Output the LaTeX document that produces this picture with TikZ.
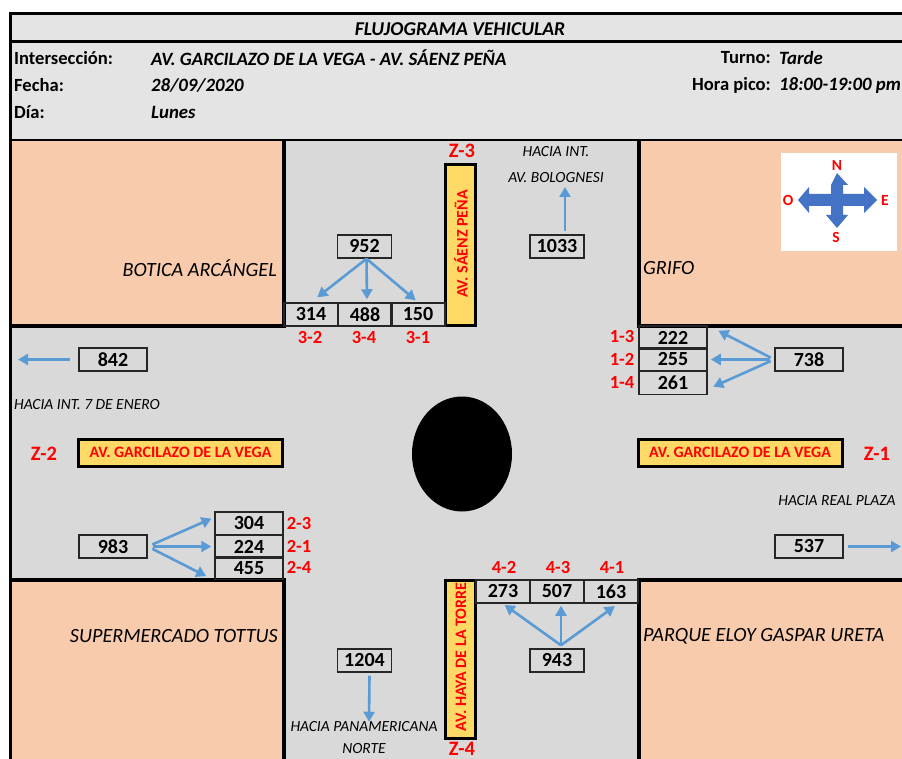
\documentclass[tikz,border=0pt]{standalone}
\usepackage{fontspec}
\usepackage{xcolor}
\setmainfont{Carlito}
\usetikzlibrary{positioning,arrows.meta,calc,shapes.geometric}

\definecolor{bandgray}{HTML}{E4E4E4}
\definecolor{roadgray}{HTML}{D9D9D9}
\definecolor{blockpeach}{HTML}{F8CBAD}
\definecolor{signyellow}{HTML}{FFD966}
\definecolor{flowblue}{HTML}{5B9BD5}
\definecolor{crossblue}{HTML}{4472C4}
\definecolor{txtred}{HTML}{FF0000}
\definecolor{boxline}{HTML}{262626}

\tikzset{
  block/.style={fill=blockpeach},
  blockedge/.style={draw=black, line width=3.5pt},
  sign/.style={rectangle, draw=black, line width=3pt, fill=signyellow, inner sep=0pt,
    text=txtred, font=\fontsize{15.9}{18}\selectfont\bfseries},
  signv/.style={rotate=90, text=txtred, inner sep=0pt, font=\fontsize{16}{18}\selectfont\bfseries},
  cnt/.style={rectangle, draw=boxline, line width=1.5pt, inner sep=0pt, minimum height=23pt,
    font=\fontsize{20}{22}\selectfont\bfseries},
  cntw/.style={cnt, minimum width=54pt},
  cntn/.style={cnt, minimum width=68pt},
  mov/.style={inner sep=0pt, text=txtred, font=\fontsize{18.5}{20}\selectfont\bfseries},
  zone/.style={inner sep=0pt, text=txtred, font=\fontsize{20.5}{22}\selectfont\bfseries},
  head/.style={inner sep=0pt, anchor=west, font=\fontsize{18.6}{20}\selectfont\bfseries},
  headr/.style={head, anchor=east},
  headv/.style={head, font=\fontsize{18.8}{20}\selectfont\bfseries\itshape},
  place/.style={inner sep=0pt, font=\fontsize{20.2}{22}\selectfont\itshape},
  dest/.style={inner sep=0pt, font=\fontsize{15.5}{17}\selectfont\itshape},
  card/.style={inner sep=0pt, text=txtred, font=\fontsize{15.5}{16}\selectfont\bfseries},
  flow/.style={draw=flowblue, line width=2.6pt, -{Triangle[length=10pt,width=11pt]}}
}

\begin{document}
\begin{tikzpicture}[x=1pt, y=-1pt]
  \useasboundingbox (0,0) rectangle (902,759);

  % Fondos
  \fill[roadgray] (10,140) rectangle (902,759);
  \fill[bandgray] (10,14) rectangle (902,140);

  % Manzanas
  \fill[block] (10,140) rectangle (284,326);
  \fill[block] (639,140) rectangle (902,326);
  \fill[block] (10,580) rectangle (284,759);
  \fill[block] (639,580) rectangle (902,759);
  \draw[blockedge] (284,140) -- (284,326) -- (10,326);
  \draw[blockedge] (639,140) -- (639,326) -- (902,326);
  \draw[blockedge] (10,580) -- (284,580) -- (284,759);
  \draw[blockedge] (902,580) -- (639,580) -- (639,759);
  \node[place, anchor=east] (botica) at (277,268) {BOTICA ARCÁNGEL};
  \node[place, anchor=west] (grifo) at (643,268) {GRIFO};
  \node[place, anchor=east] (tottus) at (278,636) {SUPERMERCADO TOTTUS};
  \node[place, anchor=west] (parque) at (643,636) {PARQUE ELOY GASPAR URETA};

  % Marco
  \draw[line width=3pt] (902,14) -- (10,14) -- (10,759);
  \draw[line width=3pt] (10,42) -- (902,42);
  \draw[line width=2.5pt] (10,140) -- (902,140);

  % Encabezado
  \node[inner sep=0pt, font=\fontsize{19.6}{22}\selectfont\bfseries\itshape] (title) at (460,29) {FLUJOGRAMA VEHICULAR};
  \node[head] (inter) at (14,58) {Intersección:};
  \node[head] (fecha) at (14,85) {Fecha:};
  \node[head] (dia) at (14,112) {Día:};
  \node[headv] (interv) at (151,58) {AV. GARCILAZO DE LA VEGA - AV. SÁENZ PEÑA};
  \node[headv] (fechav) at (151,85) {28/09/2020};
  \node[headv] (diav) at (151,112) {Lunes};
  \node[headr] (turno) at (771,58) {Turno:};
  \node[headr] (hora) at (771,85) {Hora pico:};
  \node[headv] (turnov) at (779,58) {Tarde};
  \node[headv] (horav) at (779,85) {18:00-19:00 pm};

  % Ovalo
  \node[ellipse, fill=black, inner sep=0pt, minimum width=100pt, minimum height=115pt] (ovalo) at (462,454) {};

  % Rosa de los vientos
  \node[rectangle, fill=white, inner sep=0pt, minimum width=116pt, minimum height=98pt] (rosa) at (839,202) {};
  \fill[crossblue] (837,173) -- (848,185) -- (843,185) -- (843,194) -- (864,194) -- (864,187) -- (877,200)
    -- (864,213) -- (864,206) -- (843,206) -- (843,215) -- (848,215) -- (837,228) -- (826,215) -- (831,215)
    -- (831,206) -- (809,206) -- (809,213) -- (798,200) -- (809,187) -- (809,194) -- (831,194) -- (831,185) -- cycle;
  \node[card] (cn) at (837,165) {N};
  \node[card] (cs) at (836,237) {S};
  \node[card] (co) at (788,200) {O};
  \node[card] (ce) at (885,200) {E};

  % Avenidas
  \node[sign, minimum width=30pt, minimum height=160pt] (saenz) at (460,245) {};
  \node[signv] (saenzt) at (461,244) {AV. SÁENZ PEÑA};
  \node[sign, minimum width=30pt, minimum height=158pt] (haya) at (460,659) {};
  \node[signv] (hayat) at (461,657) {AV. HAYA DE LA TORRE};
  \node[sign, minimum width=204pt, minimum height=27pt] (garcio) at (180.5,452.5) {AV. GARCILAZO DE LA VEGA};
  \node[sign, minimum width=204pt, minimum height=27pt] (garcie) at (740,452.5) {AV. GARCILAZO DE LA VEGA};
  \node[zone] (z1) at (877,454) {Z-1};
  \node[zone] (z2) at (44,454) {Z-2};
  \node[zone] (z3) at (462,151) {Z-3};
  \node[zone] (z4) at (462,749) {Z-4};

  % Acceso norte
  \node[cntw] (n952) at (364.5,246.5) {952};
  \node[cntw] (n314) at (311,314.5) {314};
  \node[cntw] (n488) at (365,314.5) {488};
  \node[cntw] (n150) at (418,314.5) {150};
  \node[mov] (m32) at (310,337) {3-2};
  \node[mov] (m34) at (364,337) {3-4};
  \node[mov] (m31) at (418,337) {3-1};
  \node[cntw] (n1033) at (557,246.5) {1033};
  \node[dest] (hint) at (556,152) {HACIA INT.};
  \node[dest] (bolog) at (556,178) {AV. BOLOGNESI};
  \coordinate (tobolog) at (565,187);

  % Acceso este
  \node[cntn] (n222) at (673,337.5) {222};
  \node[cntn] (n255) at (673,359.5) {255};
  \node[cntn] (n261) at (673,383) {261};
  \node[mov] (m13) at (622,336) {1-3};
  \node[mov] (m12) at (622,359) {1-2};
  \node[mov] (m14) at (622,382) {1-4};
  \node[cntn] (n738) at (809,359.5) {738};
  \node[cntn] (n842) at (113,359.5) {842};
  \node[dest, anchor=west] (enero) at (14,405) {HACIA INT. 7 DE ENERO};
  \coordinate (toenero) at (18,359.5);

  % Acceso oeste
  \node[cntn] (n983) at (113,546.5) {983};
  \node[cntn] (n304) at (249,523.5) {304};
  \node[cntn] (n224) at (249,546.5) {224};
  \node[cntn] (n455) at (249,568) {455};
  \node[mov] (m23) at (299,523) {2-3};
  \node[mov] (m21) at (299,546) {2-1};
  \node[mov] (m24) at (299,567) {2-4};
  \node[cntn] (n537) at (809,546.5) {537};
  \node[dest] (real) at (837,501) {HACIA REAL PLAZA};
  \coordinate (toreal) at (901,546.5);

  % Acceso sur
  \node[cntw] (n273) at (503,591.5) {273};
  \node[cntw] (n507) at (557,591.5) {507};
  \node[cntw] (n163) at (611,591.5) {163};
  \node[mov] (m42) at (504,567) {4-2};
  \node[mov] (m43) at (558,567) {4-3};
  \node[mov] (m41) at (612,567) {4-1};
  \node[cntw] (n943) at (557,660.5) {943};
  \node[cntw] (n1204) at (364.5,660.5) {1204};
  \node[dest] (panam) at (364,727) {HACIA PANAMERICANA};
  \node[dest] (norte) at (364,749) {NORTE};

  % Conexiones
  \draw[flow, shorten >=8pt] ([xshift=2pt]n952.south) -- (n314.north);
  \draw[flow, shorten >=3pt] ([xshift=2pt]n952.south) -- ([xshift=2pt]n488.north);
  \draw[flow, shorten >=3pt] ([xshift=2pt]n952.south) -- (n150.north);
  \draw[flow] ([xshift=8pt,yshift=3pt]n1033.north) -- (tobolog);
  \draw[flow, shorten <=4pt, shorten >=12pt] (n738.west) -- (n222.north east);
  \draw[flow, shorten <=4pt, shorten >=3pt] (n738.west) -- (n255.east);
  \draw[flow, shorten <=4pt, shorten >=6pt] (n738.west) -- (n261.-10);
  \draw[flow] ([xshift=-8pt]n842.west) -- (toenero);
  \draw[flow, shorten <=5pt, shorten >=3pt] (n983.east) -- (n304.170);
  \draw[flow, shorten <=5pt, shorten >=3pt] (n983.east) -- (n224.west);
  \draw[flow, shorten <=5pt, shorten >=9pt] (n983.east) -- (n455.south west);
  \draw[flow] ([xshift=4pt]n537.east) -- (toreal);
  \draw[flow, shorten >=2pt] ([xshift=4pt,yshift=3pt]n943.north) -- (n273.south);
  \draw[flow, shorten >=2pt] ([xshift=4pt,yshift=3pt]n943.north) -- ([xshift=4pt]n507.south);
  \draw[flow, shorten >=4pt] ([xshift=4pt,yshift=3pt]n943.north) -- (n163.-60);
  \draw[flow] ([xshift=5pt,yshift=-3pt]n1204.south) -- (panam.north -| 369,0);
\end{tikzpicture}
\end{document}
